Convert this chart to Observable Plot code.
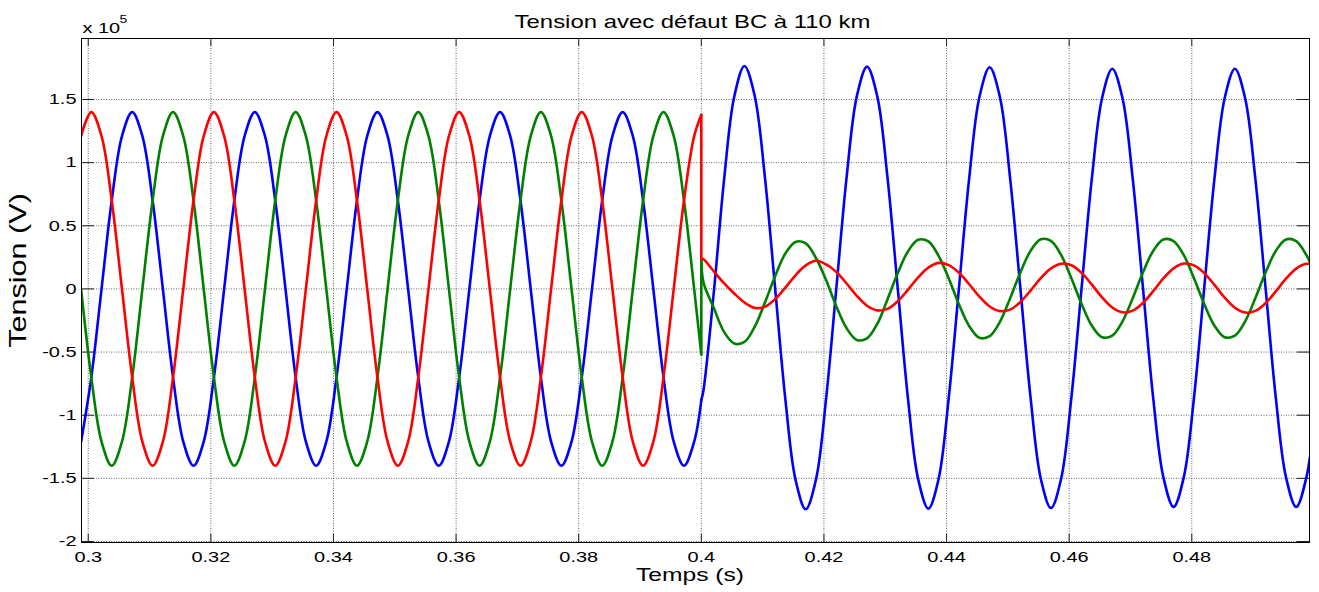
<!DOCTYPE html>
<html>
<head>
<meta charset="utf-8">
<script src="https://cdn.jsdelivr.net/npm/d3@7"></script>
<script src="https://cdn.jsdelivr.net/npm/@observablehq/plot@0.6"></script>
<style>
  html, body { margin: 0; padding: 0; background: #fff; }
</style>
</head>
<body>
<div id="chart"></div>
<script>
// Values are in units of 10^5 V (as on the axis, "x 10^5"); time in seconds.
const chartTitle = "Tension avec défaut BC à 110 km";
const xLabel = "Temps (s)";
const yLabel = "Tension (V)";
const yExponentBase = "x 10";
const yExponent = "5";

const xTicks = [0.30, 0.32, 0.34, 0.36, 0.38, 0.40, 0.42, 0.44, 0.46, 0.48];
const yTicks = [-2, -1.5, -1, -0.5, 0, 0.5, 1, 1.5];

// Pre-fault samples
const tPre = [
  0.29883, 0.30050, 0.30217, 0.30383, 0.30550, 0.30717, 0.30883, 0.31050, 0.31217, 0.31383, 0.31550, 0.31717,
  0.31883, 0.32050, 0.32217, 0.32383, 0.32550, 0.32717, 0.32883, 0.33050, 0.33217, 0.33383, 0.33550, 0.33717,
  0.33883, 0.34050, 0.34217, 0.34383, 0.34550, 0.34717, 0.34883, 0.35050, 0.35217, 0.35383, 0.35550, 0.35717,
  0.35883, 0.36050, 0.36217, 0.36383, 0.36550, 0.36717, 0.36883, 0.37050, 0.37217, 0.37383, 0.37550, 0.37717,
  0.37883, 0.38050, 0.38217, 0.38383, 0.38550, 0.38717, 0.38883, 0.39050, 0.39217, 0.39383, 0.39550, 0.39717,
  0.39883, 0.40000
];
const bluePre = [
  -1.21, -0.70, 0, 0.70, 1.21, 1.40, 1.21, 0.70, 0, -0.70, -1.21, -1.40,
  -1.21, -0.70, 0, 0.70, 1.21, 1.40, 1.21, 0.70, 0, -0.70, -1.21, -1.40,
  -1.21, -0.70, 0, 0.70, 1.21, 1.40, 1.21, 0.70, 0, -0.70, -1.21, -1.40,
  -1.21, -0.70, 0, 0.70, 1.21, 1.40, 1.21, 0.70, 0, -0.70, -1.21, -1.40,
  -1.21, -0.70, 0, 0.70, 1.21, 1.40, 1.21, 0.70, 0, -0.70, -1.21, -1.40,
  -1.21, -0.88
];
const greenPre = [
  0, -0.70, -1.21, -1.40, -1.21, -0.70, 0, 0.70, 1.21, 1.40, 1.21, 0.70,
  0, -0.70, -1.21, -1.40, -1.21, -0.70, 0, 0.70, 1.21, 1.40, 1.21, 0.70,
  0, -0.70, -1.21, -1.40, -1.21, -0.70, 0, 0.70, 1.21, 1.40, 1.21, 0.70,
  0, -0.70, -1.21, -1.40, -1.21, -0.70, 0, 0.70, 1.21, 1.40, 1.21, 0.70,
  0, -0.70, -1.21, -1.40, -1.21, -0.70, 0, 0.70, 1.21, 1.40, 1.21, 0.70,
  0, -0.52
];
const redPre = [
  1.21, 1.40, 1.21, 0.70, 0, -0.70, -1.21, -1.40, -1.21, -0.70, 0, 0.70,
  1.21, 1.40, 1.21, 0.70, 0, -0.70, -1.21, -1.40, -1.21, -0.70, 0, 0.70,
  1.21, 1.40, 1.21, 0.70, 0, -0.70, -1.21, -1.40, -1.21, -0.70, 0, 0.70,
  1.21, 1.40, 1.21, 0.70, 0, -0.70, -1.21, -1.40, -1.21, -0.70, 0, 0.70,
  1.21, 1.40, 1.21, 0.70, 0, -0.70, -1.21, -1.40, -1.21, -0.70, 0, 0.70,
  1.21, 1.38
];

// Post-fault samples (fault at t = 0.4 s)
const tPost = [
  0.40000,
  0.40036, 0.40203, 0.40370, 0.40536, 0.40703, 0.40870, 0.41036, 0.41203, 0.41370, 0.41536, 0.41703, 0.41870,
  0.42036, 0.42203, 0.42370, 0.42536, 0.42703, 0.42870, 0.43036, 0.43203, 0.43370, 0.43536, 0.43703, 0.43870,
  0.44036, 0.44203, 0.44370, 0.44536, 0.44703, 0.44870, 0.45036, 0.45203, 0.45370, 0.45536, 0.45703, 0.45870,
  0.46036, 0.46203, 0.46370, 0.46536, 0.46703, 0.46870, 0.47036, 0.47203, 0.47370, 0.47536, 0.47703, 0.47870,
  0.48036, 0.48203, 0.48370, 0.48536, 0.48703, 0.48870, 0.49036, 0.49203, 0.49370, 0.49536, 0.49703, 0.49870,
  0.50036
];
const bluePost = [
  -0.88,
  -0.80, -0.03, 0.86, 1.52, 1.765, 1.53, 0.89, 0.01, -0.87, -1.51, -1.745, -1.51,
  -0.865, 0.01, 0.885, 1.525, 1.76, 1.525, 0.885, 0.01, -0.865, -1.505, -1.74, -1.505,
  -0.86, 0.01, 0.88, 1.52, 1.755, 1.52, 0.88, 0.01, -0.86, -1.50, -1.735, -1.50,
  -0.86, 0.01, 0.875, 1.51, 1.744, 1.51, 0.875, 0.01, -0.86, -1.49, -1.726, -1.49,
  -0.86, 0.01, 0.875, 1.51, 1.744, 1.51, 0.875, 0.01, -0.86, -1.49, -1.726, -1.49,
  -0.86
];
const greenPost = [
  0.229,
  0.05, -0.15, -0.34, -0.432, -0.42, -0.30, -0.11, 0.10, 0.28, 0.372, 0.36, 0.245,
  0.068, -0.139, -0.312, -0.404, -0.391, -0.277, -0.083, 0.124, 0.297, 0.389, 0.376, 0.262,
  0.082, -0.123, -0.295, -0.387, -0.374, -0.261, -0.076, 0.129, 0.301, 0.393, 0.380, 0.267,
  0.084, -0.12, -0.291, -0.382, -0.369, -0.257, -0.074, 0.13, 0.301, 0.392, 0.379, 0.267,
  0.084, -0.12, -0.291, -0.382, -0.369, -0.257, -0.074, 0.13, 0.301, 0.392, 0.379, 0.267,
  0.084
];
const redPost = [
  0.242,
  0.235, 0.14, 0.045, -0.036, -0.107, -0.15, -0.141, -0.081, 0.01, 0.108, 0.186, 0.223,
  0.194, 0.134, 0.043, -0.055, -0.133, -0.17, -0.158, -0.098, -0.007, 0.091, 0.169, 0.206,
  0.188, 0.128, 0.037, -0.061, -0.139, -0.176, -0.164, -0.104, -0.013, 0.085, 0.163, 0.2,
  0.188, 0.127, 0.034, -0.067, -0.147, -0.185, -0.172, -0.111, -0.018, 0.083, 0.163, 0.201,
  0.186, 0.125, 0.032, -0.069, -0.149, -0.187, -0.174, -0.113, -0.02, 0.081, 0.161, 0.199,
  0.186
];

const phases = [
  {name: "A", color: "#0000ff", pre: bluePre, post: bluePost},
  {name: "B", color: "#008000", pre: greenPre, post: greenPost},
  {name: "C", color: "#ff0000", pre: redPre, post: redPost}
];

const rows = [];
phases.forEach(p => {
  tPre.forEach((t, i) => rows.push({phase: p.name, seg: p.name + "-pre", t, v: p.pre[i]}));
  tPost.forEach((t, i) => rows.push({phase: p.name, seg: p.name + "-post", t, v: p.post[i]}));
});
const jumps = phases.map(p => ({phase: p.name, t: tPost[0], v1: p.pre[p.pre.length - 1], v2: p.post[0]}));

const W = 1319, H = 592, mL = 81, mR = 10, mT = 38, mB = 50;
const frameW = W - mL - mR, frameH = H - mT - mB;
const gridStyle = {stroke: "#666", strokeDasharray: "1,1.5", strokeWidth: 1};
const tickStyle = {stroke: "#222", strokeWidth: 1};
const lineW = 2.6;

const chart = Plot.plot({
  width: W, height: H,
  marginLeft: mL, marginRight: mR, marginTop: mT, marginBottom: mB,
  style: {fontFamily: "'Liberation Sans', Arial, Helvetica, sans-serif", fontSize: "15px", color: "#000", background: "#fff"},
  x: {domain: [0.2989, 0.4992], ticks: xTicks, tickFormat: d => String(d), tickSize: 0, tickPadding: 9, label: null},
  y: {domain: [-2.008, 1.983], ticks: yTicks, tickFormat: d => String(d), tickSize: 0, tickPadding: 5, label: null},
  marks: [
    Plot.ruleX(xTicks, gridStyle),
    Plot.ruleY(yTicks, gridStyle),
    Plot.ruleX(xTicks, {...tickStyle, insetTop: frameH - 8}),
    Plot.ruleX(xTicks, {...tickStyle, insetBottom: frameH - 8}),
    Plot.ruleY(yTicks, {...tickStyle, insetRight: frameW - 13}),
    Plot.ruleY(yTicks, {...tickStyle, insetLeft: frameW - 12}),
    ...phases.flatMap(p => [
      Plot.line(rows.filter(r => r.phase === p.name), {x: "t", y: "v", z: "seg", stroke: p.color, strokeWidth: lineW, curve: "catmull-rom", clip: true}),
      Plot.link(jumps.filter(j => j.phase === p.name), {x1: "t", x2: "t", y1: "v1", y2: "v2", stroke: p.color, strokeWidth: lineW})
    ]),
    Plot.frame({stroke: "#000", strokeWidth: 1}),
    Plot.text([chartTitle], {text: d => d, frameAnchor: "top", textAnchor: "middle", dx: -3, dy: -10.7, lineAnchor: "bottom", fontSize: 18, fill: "#000"}),
    Plot.text([xLabel], {text: d => d, frameAnchor: "bottom", textAnchor: "middle", dx: -5.5, dy: 38, lineAnchor: "bottom", fontSize: 18.5, fill: "#000"}),
    Plot.text([yLabel], {text: d => d, frameAnchor: "left", textAnchor: "middle", rotate: -90, dx: -56, dy: -20, lineAnchor: "bottom", fontSize: 23, fill: "#000", ariaLabel: "noscale"}),
    Plot.text([yExponentBase], {text: d => d, frameAnchor: "top-left", dx: 1, dy: -5.7, textAnchor: "start", lineAnchor: "bottom", fontSize: 15, fill: "#000", ariaLabel: "noscale"}),
    Plot.text([yExponent], {text: d => d, frameAnchor: "top-left", dx: 38, dy: -16, textAnchor: "start", lineAnchor: "bottom", fontSize: 10.5, fill: "#000", ariaLabel: "noscale"})
  ]
});

// The reference renders most horizontal text horizontally stretched; mimic it.
chart.querySelectorAll("text").forEach(t => {
  if (t.closest('[aria-label="noscale"]')) return;
  const x = parseFloat(t.getAttribute("x")) || 0;
  const tr = t.getAttribute("transform") || "";
  t.setAttribute("transform", `${tr} translate(${x},0) scale(1.33,1) translate(${-x},0)`.trim());
});

document.getElementById("chart").appendChild(chart);
</script>
</body>
</html>
